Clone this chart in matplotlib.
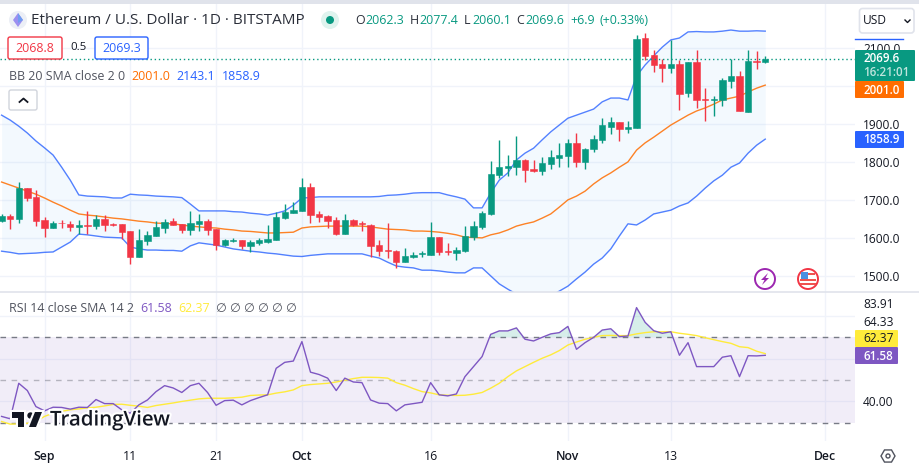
import numpy as np
import matplotlib
matplotlib.use('Agg')
import matplotlib.pyplot as plt
from matplotlib.patches import Circle, FancyBboxPatch, Polygon, Rectangle
import matplotlib.patheffects as pe

plt.rcParams['font.family'] = ['Open Sans', 'DejaVu Sans']

# days counted from 1 Sep
days = list(range(-5, 85))
tick_days = [0, 10, 20, 30, 45, 61, 73, 91]
tick_labels = ['Sep', '11', '21', 'Oct', '16', 'Nov', '13', 'Dec']
price_ticks = [1500, 1600, 1700, 1800, 1900, 2000, 2100]

opens = [1643, 1657, 1649, 1730, 1707, 1646, 1625, 1639, 1636, 1628,
         1633, 1630, 1649, 1635, 1635, 1617, 1549, 1591, 1604, 1625,
         1643, 1635, 1620, 1635, 1643, 1622, 1580, 1592, 1593, 1578,
         1586, 1588, 1593, 1651, 1664, 1670, 1733, 1662, 1657, 1646,
         1609, 1646, 1638, 1633, 1580, 1567, 1564, 1535, 1549, 1556,
         1554, 1601, 1564, 1559, 1564, 1601, 1628, 1662, 1765, 1783,
         1785, 1804, 1780, 1775, 1793, 1809, 1814, 1849, 1799, 1833,
         1857, 1891, 1904, 1886, 1888, 2125, 2080, 2057, 2046, 2057,
         1980, 2062, 1965, 1962, 1962, 2012, 2025, 1930, 2065, 2062.3]
highs = [1662, 1662, 1746, 1730, 1725, 1654, 1643, 1646, 1643, 1646,
         1670, 1659, 1659, 1638, 1635, 1617, 1622, 1617, 1643, 1649,
         1651, 1635, 1670, 1662, 1649, 1622, 1596, 1599, 1593, 1593,
         1599, 1633, 1667, 1688, 1693, 1757, 1743, 1670, 1659, 1654,
         1662, 1649, 1643, 1635, 1593, 1638, 1567, 1572, 1562, 1564,
         1641, 1601, 1585, 1575, 1630, 1643, 1670, 1801, 1857, 1817,
         1867, 1807, 1804, 1812, 1830, 1849, 1859, 1875, 1836, 1870,
         1914, 1917, 1904, 1907, 2133, 2138, 2093, 2070, 2120, 2067,
         2062, 2093, 1993, 1972, 2020, 2070, 2038, 2093, 2091, 2077.4]
lows = [1641, 1622, 1638, 1696, 1630, 1601, 1625, 1625, 1617, 1609,
        1609, 1622, 1617, 1630, 1596, 1530, 1549, 1580, 1604, 1612,
        1633, 1612, 1607, 1617, 1607, 1567, 1578, 1588, 1570, 1562,
        1580, 1586, 1593, 1649, 1664, 1670, 1638, 1641, 1625, 1607,
        1609, 1630, 1617, 1549, 1551, 1546, 1520, 1535, 1546, 1549,
        1554, 1554, 1554, 1541, 1562, 1593, 1622, 1659, 1757, 1762,
        1764, 1746, 1772, 1764, 1780, 1785, 1785, 1785, 1780, 1825,
        1849, 1872, 1854, 1875, 1888, 2067, 2036, 2009, 2033, 1935,
        1970, 1941, 1907, 1920, 1946, 1993, 1933, 1930, 2043, 2060.1]
closes = [1657, 1649, 1730, 1704, 1643, 1625, 1638, 1637, 1628, 1633,
          1631, 1649, 1633, 1633, 1615, 1549, 1593, 1607, 1628, 1641,
          1633, 1620, 1638, 1643, 1620, 1580, 1593, 1593, 1578, 1588,
          1593, 1596, 1654, 1667, 1672, 1733, 1659, 1654, 1643, 1609,
          1646, 1633, 1635, 1578, 1564, 1564, 1535, 1551, 1554, 1558,
          1601, 1562, 1562, 1567, 1604, 1630, 1664, 1767, 1785, 1788,
          1804, 1778, 1775, 1796, 1812, 1817, 1849, 1799, 1833, 1859,
          1896, 1904, 1886, 1891, 2122, 2078, 2054, 2046, 2057, 1978,
          2062, 1962, 1962, 1965, 2014, 2025, 1933, 2065, 2063, 2069.6]

bb_upper = [1922, 1909, 1893, 1875, 1854, 1836, 1817, 1785, 1751, 1712,
            1709, 1708, 1707, 1704, 1704, 1714, 1712, 1711, 1709, 1708,
            1707, 1705, 1688, 1670, 1670, 1670, 1670, 1668, 1667, 1664,
            1662, 1659, 1664, 1670, 1685, 1704, 1705, 1707, 1707, 1707,
            1707, 1707, 1707, 1707, 1708, 1711, 1712, 1714, 1717, 1718,
            1718, 1718, 1712, 1707, 1701, 1678, 1678, 1717, 1751, 1770,
            1804, 1822, 1835, 1857, 1878, 1896, 1914, 1922, 1930, 1938,
            1957, 1967, 1967, 1962, 2025, 2054, 2078, 2101, 2120, 2125,
            2141, 2142, 2141, 2141, 2143, 2146, 2143, 2143, 2144, 2143.1]
bb_basis = [1746, 1738, 1730, 1722, 1714, 1704, 1693, 1683, 1672, 1662,
            1659, 1657, 1654, 1651, 1649, 1646, 1643, 1641, 1638, 1637,
            1636, 1633, 1630, 1628, 1626, 1625, 1622, 1620, 1617, 1616,
            1614, 1612, 1612, 1613, 1614, 1625, 1628, 1629, 1630, 1630,
            1630, 1630, 1630, 1628, 1625, 1622, 1621, 1620, 1617, 1617,
            1616, 1614, 1611, 1607, 1601, 1600, 1599, 1607, 1612, 1620,
            1630, 1636, 1641, 1651, 1662, 1680, 1699, 1709, 1722, 1741,
            1757, 1770, 1785, 1799, 1830, 1849, 1864, 1880, 1896, 1909,
            1922, 1933, 1941, 1951, 1962, 1967, 1972, 1983, 1993, 2001.0]
bb_lower = [1564, 1561, 1557, 1558, 1559, 1561, 1562, 1575, 1588, 1609,
            1607, 1604, 1601, 1600, 1599, 1575, 1570, 1567, 1567, 1566,
            1566, 1564, 1578, 1586, 1583, 1580, 1575, 1570, 1567, 1564,
            1562, 1559, 1557, 1554, 1551, 1550, 1553, 1555, 1557, 1557,
            1557, 1557, 1557, 1551, 1546, 1535, 1525, 1522, 1520, 1514,
            1514, 1512, 1509, 1507, 1507, 1520, 1520, 1499, 1478, 1464,
            1451, 1438, 1430, 1436, 1446, 1459, 1472, 1491, 1509, 1530,
            1546, 1570, 1604, 1636, 1633, 1646, 1662, 1667, 1672, 1683,
            1691, 1709, 1730, 1749, 1764, 1785, 1796, 1822, 1843, 1858.9]

rsi = [33.0, 31.9, 48.5, 45.1, 37.6, 35.6, 37.3, 37.2, 36.4, 37.3,
       37.2, 40.9, 39.0, 39.0, 36.1, 34.5, 38.4, 40.7, 44.6, 47.4,
       46.3, 44.2, 47.4, 48.5, 44.2, 38.2, 40.4, 40.6, 38.4, 40.4,
       41.8, 43.1, 55.5, 58.3, 58.9, 68.0, 53.7, 52.6, 50.9, 45.1,
       50.9, 49.1, 48.8, 40.7, 39.2, 39.0, 35.6, 38.4, 39.0, 39.6,
       48.8, 43.1, 42.6, 43.5, 51.6, 56.3, 61.0, 71.4, 73.0, 73.0,
       74.4, 69.1, 68.3, 70.0, 71.6, 72.2, 75.1, 64.4, 67.5, 70.0,
       73.4, 74.0, 70.3, 70.6, 83.9, 77.0, 73.1, 71.9, 72.6, 61.6,
       67.5, 56.3, 56.3, 56.3, 60.7, 61.4, 51.6, 61.4, 61.3, 61.58]
rsi_sma = [30.6, 29.4, 29.5, 29.8, 30.6, 33.0, 34.5, 35.4, 36.1, 36.5,
           37.0, 37.3, 37.9, 38.6, 38.7, 38.2, 37.8, 37.2, 38.1, 38.7,
           39.3, 40.0, 40.6, 41.2, 41.5, 41.5, 41.5, 41.7, 42.0, 42.8,
           43.0, 43.1, 43.9, 44.5, 45.4, 47.4, 47.9, 48.2, 48.5, 49.1,
           49.9, 50.7, 51.3, 51.3, 51.2, 50.9, 48.8, 47.6, 46.0, 44.6,
           44.0, 43.1, 42.9, 42.8, 42.9, 43.4, 44.2, 46.2, 48.5, 51.6,
           54.3, 56.3, 58.3, 60.2, 61.8, 63.8, 66.4, 67.8, 69.1, 70.0,
           70.8, 70.9, 70.8, 70.8, 71.6, 72.2, 72.6, 72.6, 72.6, 71.9,
           71.4, 70.8, 69.8, 68.9, 68.0, 67.2, 65.6, 65.2, 63.5, 62.37]

GREEN = '#089981'
RED = '#f23645'
BLUE = '#2962ff'
ORANGE = '#ff6d00'
PURPLE = '#7e57c2'
YELLOW = '#ffeb3b'
GRID = '#f0f3fa'
DARK = '#131722'
GREY = '#50535e'

W, H = 919, 469


def px_axes(x0, y0, x1, y1, **kw):
    # axes from a pixel box, y counted from the top
    return fig.add_axes([x0 / W, 1 - y1 / H, (x1 - x0) / W, (y1 - y0) / H], **kw)


fig = plt.figure(figsize=(W / 100, H / 100), dpi=100, facecolor='white')

x = np.array(days)
o = np.array(opens, dtype=float)
h = np.array(highs, dtype=float)
l = np.array(lows, dtype=float)
c = np.array(closes, dtype=float)
xlim = (-5.187, 94.46)

# price pane
ax = px_axes(0, 4, 855, 292)
ax.set_xlim(*xlim)
ax.set_ylim(1456.6, 2214.5)
colors = [GREEN if cl >= op else RED for op, cl in zip(o, c)]
ax.fill_between(x, bb_lower, bb_upper, color='#2196f3', alpha=0.05, lw=0, zorder=1)
ax.plot(x, bb_upper, color=BLUE, lw=1, alpha=0.8, zorder=2)
ax.plot(x, bb_lower, color=BLUE, lw=1, alpha=0.8, zorder=2)
ax.plot(x, bb_basis, color=ORANGE, lw=1, alpha=0.85, zorder=2)
ax.vlines(x, l, h, colors=colors, lw=1, zorder=3)
ax.bar(x, np.abs(c - o), bottom=np.minimum(o, c), width=0.74, color=colors,
       edgecolor=colors, lw=0.4, zorder=4)
ax.axhline(closes[-1], color=GREEN, lw=1, ls=(0, (1, 2)), zorder=5)
ax.set_xticks(tick_days)
ax.set_xticklabels([])
ax.set_yticks(price_ticks)
# the 2000 label sits under the orange tag
ax.set_yticklabels(['' if v == 2000 else f'{v:.1f}' for v in price_ticks])
ax.yaxis.tick_right()
ax.tick_params(length=0, pad=5.8, labelsize=8.6, labelcolor=DARK)
ax.tick_params(axis='x', labelbottom=False)
ax.grid(True, color=GRID, lw=1)
ax.set_axisbelow(True)
for s in ax.spines.values():
    s.set_visible(False)

# RSI pane
ax2 = px_axes(0, 292, 855, 441)
ax2.set_xlim(*xlim)
ax2.set_ylim(21.5, 91.2)
ax2.axhspan(30, 70, color=PURPLE, alpha=0.1, lw=0, zorder=1)
ax2.axhline(70, color='#787b86', lw=1, ls=(0, (4, 4)), zorder=2)
ax2.axhline(50, color='#787b86', lw=1, ls=(0, (4, 4)), alpha=0.5, zorder=2)
ax2.axhline(30, color='#787b86', lw=1, ls=(0, (4, 4)), zorder=2)
r = np.array(rsi)
ax2.fill_between(x, 70, r, where=r > 70, interpolate=True, color=GREEN, alpha=0.16, lw=0, zorder=2)
ax2.plot(x, rsi_sma, color=YELLOW, lw=1, zorder=3)
ax2.plot(x, rsi, color=PURPLE, lw=1, zorder=4)
ax2.set_xticks(tick_days)
ax2.set_xticklabels(tick_labels)
ax2.set_yticks([40, 60, 80])
ax2.set_yticklabels(['40.00', '', ''])
ax2.yaxis.tick_right()
ax2.tick_params(axis='y', length=0, pad=5.8, labelsize=8.6, labelcolor=DARK)
ax2.tick_params(axis='x', length=0, pad=6.2, labelsize=8.8, labelcolor=DARK)
for lab in ax2.get_xticklabels():
    if lab.get_text() in ('Sep', 'Oct', 'Nov', 'Dec'):
        lab.set_fontweight('semibold')
ax2.grid(True, color=GRID, lw=1)
ax2.set_axisbelow(True)
for s in ax2.spines.values():
    s.set_visible(False)

# overlay in pixels for legends, tags and icons
ui = fig.add_axes([0, 0, 1, 1], zorder=10)
ui.set_xlim(0, W)
ui.set_ylim(H, 0)
ui.axis('off')
ui.patch.set_alpha(0)


def txt(px, py, s, color=DARK, size=8.9, ha='left', **kw):
    ui.text(px, py, s, color=color, fontsize=size, ha=ha, va='center', **kw)


def box(x0, y0, x1, y1, fc='white', ec='none', lw=1, r=2):
    ui.add_patch(FancyBboxPatch((x0 + r, y0 + r), x1 - x0 - 2 * r, y1 - y0 - 2 * r,
                                boxstyle=f'round,pad={r}', fc=fc, ec=ec, lw=lw))


ui.add_patch(Rectangle((0, 0), W, 4, fc='#e0e3eb', ec='none'))
ui.plot([0, W], [292, 292], color='#e0e3eb', lw=1.2)

# header
ui.add_patch(Circle((18, 20), 9, fc='#eceff6', ec='none'))
ui.add_patch(Polygon([(18, 13), (23, 20), (18, 27), (13, 20)], fc='#9c8ff0', ec='none'))
ui.add_patch(Polygon([(18, 13), (23, 20), (18, 23)], fc='#6f9cf0', ec='none'))
txt(31, 20, 'Ethereum / U.S. Dollar · 1D · BITSTAMP', size=11, color='#2a2e39')
ui.add_patch(Circle((330, 20), 9, fc='#dff3ee', ec='none'))
ui.add_patch(Circle((330, 20), 4, fc=GREEN, ec='none'))
for px, s in zip([355, 409.5, 464, 516], ['O', 'H', 'L', 'C']):
    txt(px, 20, s, color='#2a2e39')
for px, s in zip([365, 419, 472, 525, 570, 600], ['2062.3', '2077.4', '2060.1', '2069.6', '+6.9', '(+0.33%)']):
    txt(px, 20, s, color=GREEN)

box(8, 37, 62, 59, ec=RED)
txt(35, 48, '2068.8', color=RED, ha='center')
txt(78.5, 48, '0.5', ha='center', size=8.2)
box(95, 37, 148, 59, ec=BLUE)
txt(121.5, 48, '2069.3', color=BLUE, ha='center')

txt(9, 77, 'BB 20 SMA close 2 0', color=GREY)
txt(131, 77, '2001.0', color=ORANGE)
txt(176, 77, '2143.1', color=BLUE)
txt(221.5, 77, '1858.9', color=BLUE)
box(9, 90, 37, 110, ec='#d1d4dc')
ui.plot([19.5, 23.5, 27.5], [102, 98.5, 102], color=DARK, lw=1.3)

# USD dropdown
box(859.5, 8.5, 914, 33, ec='#e0e3eb', lw=1.2, r=3)
txt(863, 20.5, 'USD', size=8.6)
ui.plot([905, 907.5, 910], [20, 22.5, 20], color=DARK, lw=1)

# RSI legend
txt(9, 309, 'RSI 14 close SMA 14 2', color=GREY)
txt(140, 309, '61.58', color=PURPLE)
txt(178, 309, '62.37', color=YELLOW)
for px in [220, 234, 248, 262, 276, 290]:
    txt(px, 309, '∅', color=GREY, ha='center')

# scale tags
ui.plot([855, 903], [38.7, 38.7], color=BLUE, lw=1)
box(855, 50, 915, 81, fc=GREEN, r=1)
txt(863, 59, '2069.6', color='white', size=8.4, fontweight='semibold')
txt(863, 73, '16:21:01', color='#bfe5dd', size=8.4, fontweight='semibold')
box(855, 81, 904, 98, fc=ORANGE, r=1)
txt(863, 90, '2001.0', color='white', size=8.4, fontweight='semibold')
box(855, 131, 904, 148, fc=BLUE, r=1)
txt(863, 139.5, '1858.9', color='white', size=8.4, fontweight='semibold')
txt(863, 304.5, '83.91', size=8.6)
txt(863, 322, '64.33', size=8.6)
box(855, 330, 898, 347, fc=YELLOW, r=1)
txt(863, 338.5, '62.37', size=8.6)
box(855, 347, 898, 364, fc=PURPLE, r=1)
txt(863, 356, '61.58', color='white', size=8.4, fontweight='semibold')

# event icons
ui.add_patch(Circle((765, 279), 10, fc='white', ec='#9c27b0', lw=1.4))
ui.add_patch(Polygon([(768, 273), (761, 280), (764.5, 280), (762, 285), (769, 278), (765.5, 278)],
                     fc='#9c27b0', ec='none'))
ui.add_patch(Circle((808, 279), 10, fc='white', ec=RED, lw=1.4))
ui.add_patch(Rectangle((801, 272), 7, 7, fc='#4a90e2', ec='none'))
for py in [279, 283]:
    ui.add_patch(Rectangle((800, py), 16, 2, fc='#ef5350', ec='none'))
ui.add_patch(Rectangle((808, 273), 7, 2, fc='#ef5350', ec='none'))

# gear
ang = np.radians(np.arange(0, 360, 60))
ui.add_patch(Polygon(np.c_[888 + 7 * np.cos(ang), 456 + 7 * np.sin(ang)], fc='white', ec=GREY, lw=1))
ui.add_patch(Circle((888, 456), 2, fc='white', ec=GREY, lw=1))

# logo
halo = [pe.withStroke(linewidth=3, foreground='white')]
logo = [Polygon([(12, 412), (23.5, 412), (23.5, 427), (17.5, 427), (17.5, 418), (12, 418)], fc=DARK, ec='none'),
        Circle((30.5, 415.5), 3.2, fc=DARK, ec='none'),
        Polygon([(35, 412), (42, 412), (36, 427), (29, 427)], fc=DARK, ec='none')]
for p in logo:
    p.set_path_effects(halo)
    ui.add_patch(p)
ui.text(50, 420.5, 'TradingView', color=DARK, fontsize=14.7, fontweight='semibold',
        va='center', ha='left', path_effects=halo)

fig.savefig('out.png', dpi=100)
